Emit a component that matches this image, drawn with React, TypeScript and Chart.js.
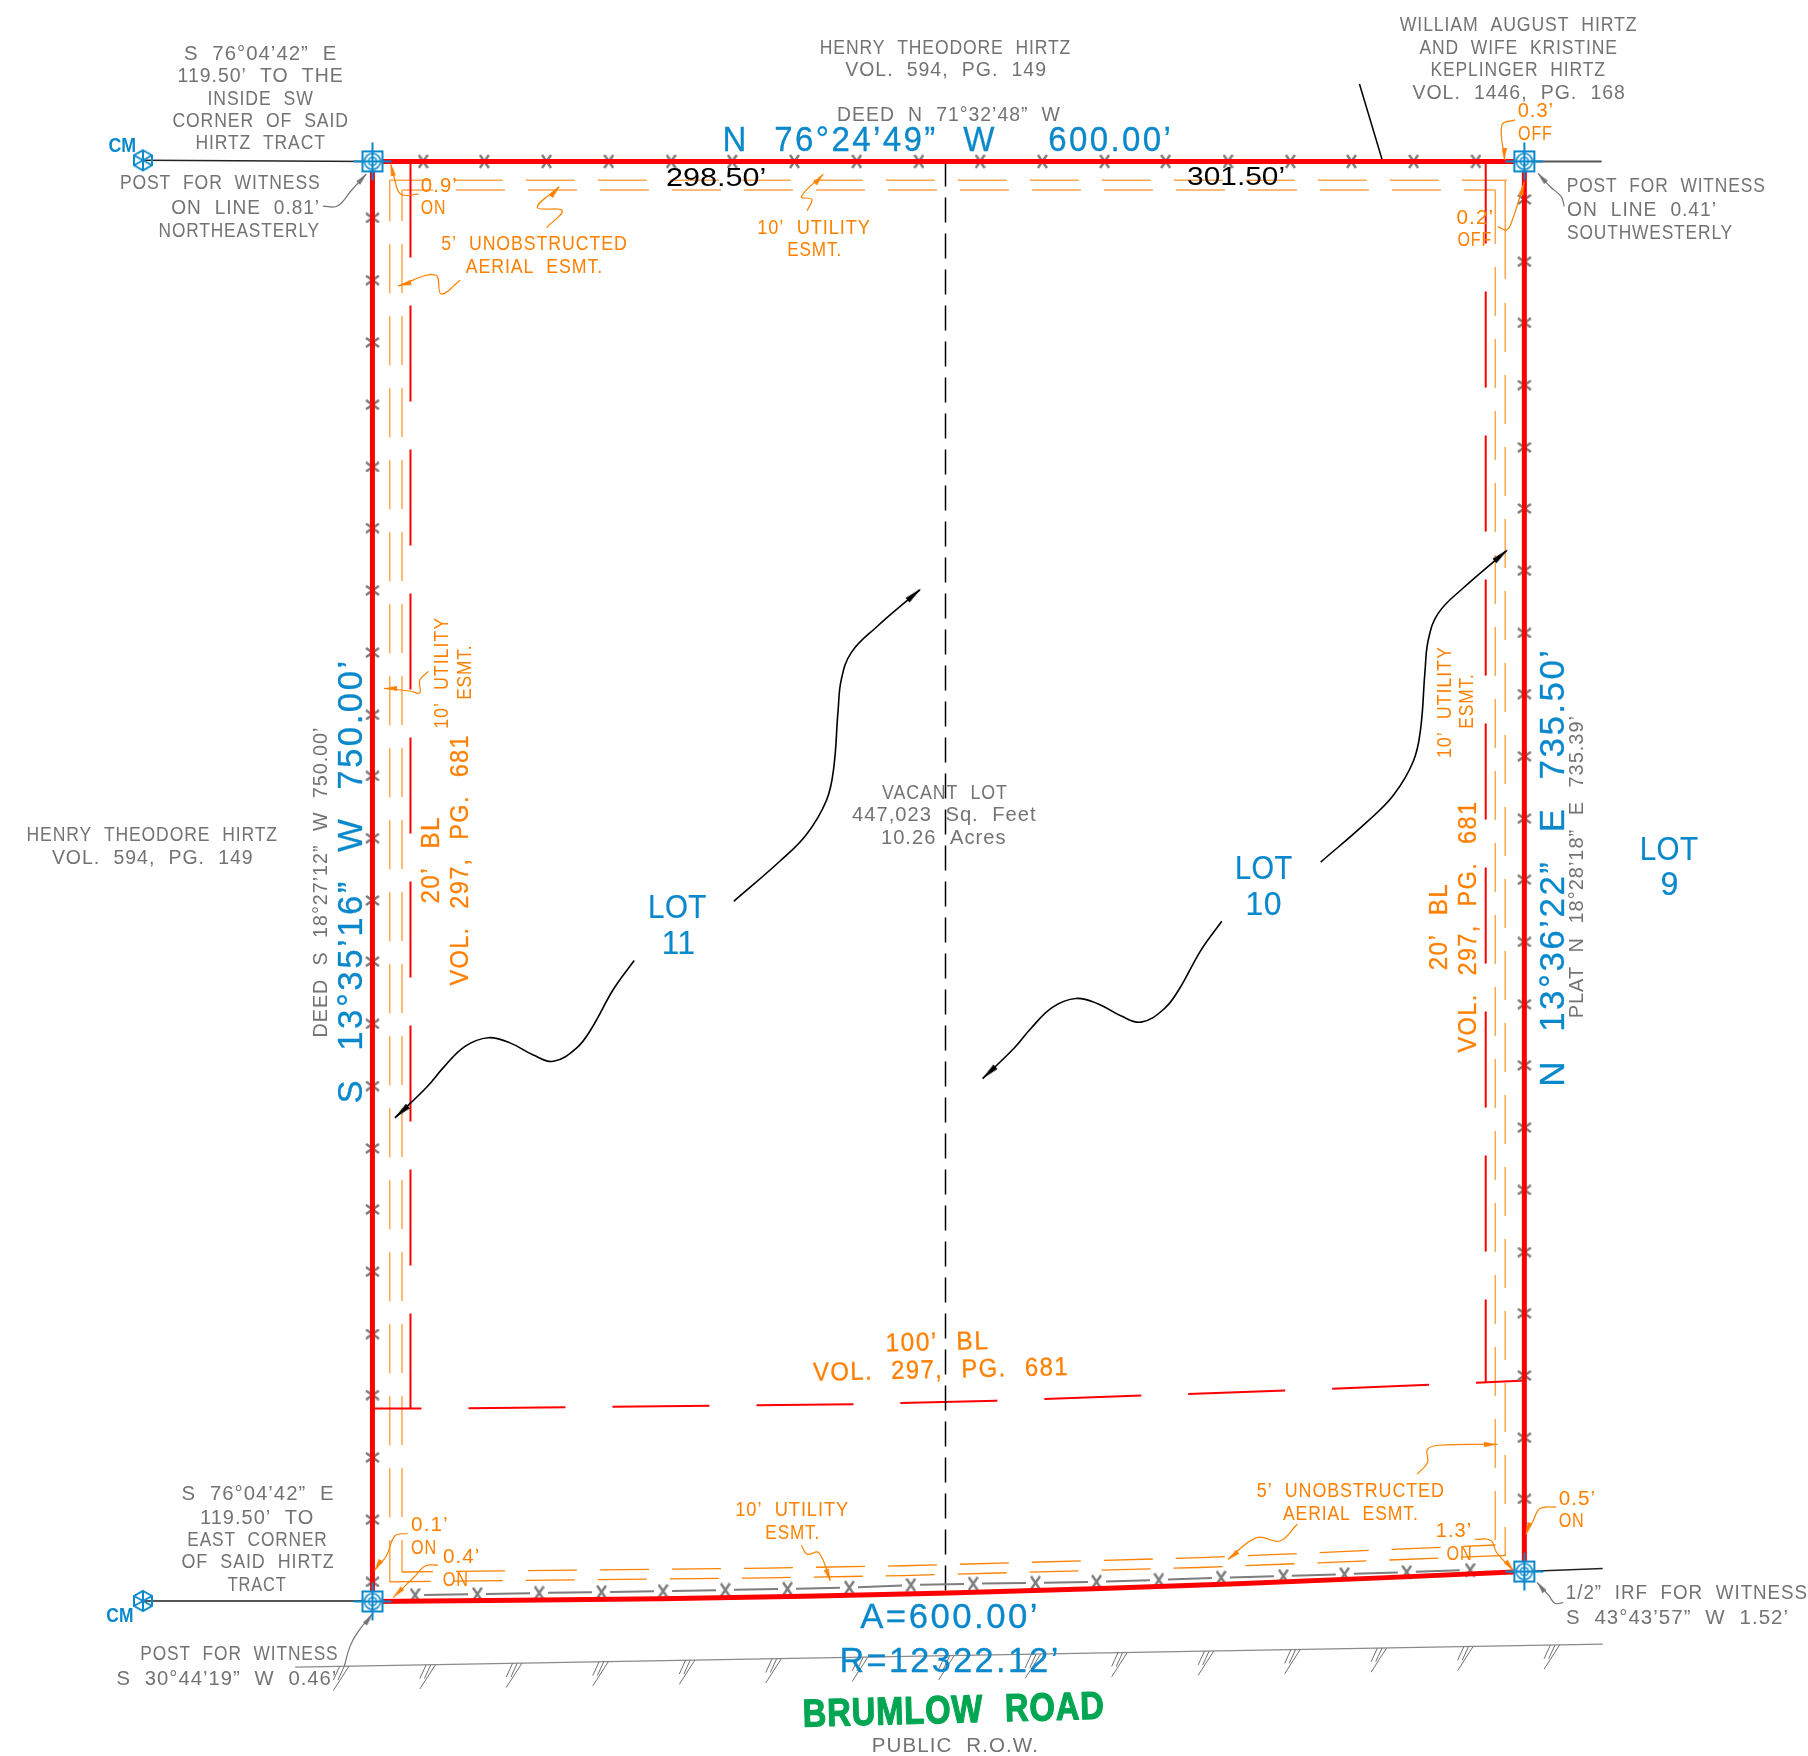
import React, { useEffect, useRef } from "react";
import { Chart, registerables } from "chart.js";

Chart.register(...registerables);

type P = [number, number];

// ---- plan extents (drawing units) ----
const planWidth = 1568;
const planHeight = 1523;

// ---- boundary ----
const boundarySides: P[] = [[323, 1389], [323, 140], [1322, 140], [1322, 1363]];
const boundaryArc: P[] = [[323, 1389], [573, 1386.6], [823, 1381.6], [1073, 1373.7], [1322, 1363]];

// ---- fence crossings ----
const topFenceX = [367, 420, 474, 528, 582, 635, 689, 743, 797, 850, 904, 958, 1011, 1065, 1119, 1172, 1226, 1280];
const topFenceY = 140;
const leftFenceY = [189, 243, 297, 351, 405, 458, 512, 566, 620, 673, 727, 781, 834, 888, 942, 996, 1049, 1103, 1157, 1210, 1264, 1318, 1372];
const leftFenceX = 323;
const rightFenceY = [173, 227, 280, 334, 388, 441, 495, 549, 602, 656, 710, 763, 817, 871, 924, 978, 1032, 1086, 1139, 1193, 1247, 1300];
const rightFenceX = 1322;
const bottomFence: P[] = [[360, 1383.4], [414, 1382.6], [467.6, 1381.6], [521.7, 1380.8], [575, 1380], [629, 1379], [683, 1378], [736.6, 1377], [790, 1374.7], [844, 1373.6], [898, 1372.8], [951, 1371.9], [1005, 1370.3], [1059, 1368.3], [1113, 1366.9], [1166, 1365.3], [1220, 1363.5], [1275, 1361.7]];

// ---- easements ----
const easeTopOuter: P[] = [[338, 156.4], [1307, 156.4]];
const easeTopInner: P[] = [[348.6, 164.8], [1297, 164.8]];
const easeLeftOuter: P[] = [[338, 156.4], [338, 1372]];
const easeLeftInner: P[] = [[348.6, 164.8], [348.6, 1363.4]];
const easeRightOuterHead: P[] = [[1305.4, 156.4], [1305.4, 242]];
const easeRightOuter: P[] = [[1305.4, 262.8], [1305.4, 1349]];
const easeRightInnerHead: P[] = [[1296.8, 164.8], [1296.8, 211.6]];
const easeRightInner: P[] = [[1296.8, 231.6], [1296.8, 1340]];
const easeBottomInner: P[] = [[348.6, 1363.4], [665, 1360], [784, 1358], [1041, 1351], [1297, 1340]];
const easeBottomOuter: P[] = [[338, 1372], [665, 1368.5], [784, 1366.5], [1041, 1359.5], [1306, 1349]];

// ---- building lines ----
const blLeft: P[] = [[356, 140], [356, 1221.7]];
const blRight: P[] = [[1288.5, 140], [1288.5, 1199]];
const blFront: P[] = [[323, 1221.7], [405, 1221.5], [740, 1218], [864, 1214.8], [1115, 1206], [1240, 1201], [1323.4, 1197.4]];

// ---- lot line, ties, road ----
const lotLine: P[] = [[820, 140], [820, 1382]];
const topTick: P[] = [[1179, 72.8], [1199, 139.6]];
const tieTopLeft: P[] = [[124, 139], [323, 140]];
const tieTopRight: P[] = [[1322, 140], [1389, 140]];
const tieBottomLeft: P[] = [[124, 1388.5], [323, 1388.5]];
const tieBottomRight: P[] = [[1322, 1363], [1390, 1360.4]];
const roadLine: P[] = [[256, 1446], [1390, 1426]];
const hatchTops: P[] = [[302.6, 1445.2], [377.6, 1443.9], [452.6, 1442.5], [527.6, 1441.2], [602.6, 1439.9], [677.6, 1438.6], [752.6, 1437.3], [827.6, 1435.9], [902.6, 1434.6], [977.6, 1433.3], [1052.6, 1432], [1127.6, 1430.7], [1202.6, 1429.3], [1277.6, 1428], [1352.6, 1426.7]];

// ---- leaders ----
const blackLeaders: P[][] = [
  [[550, 833], [532, 858], [513, 892], [500, 909], [480, 920.5], [462.5, 915], [442.3, 904.5], [423.5, 900], [403.3, 907.5], [384.5, 926], [370, 943], [342.6, 969.5]],
  [[636.4, 781.7], [676.3, 747], [699.4, 723.8], [716.7, 694.3], [723, 666.5], [726.8, 616.8], [729.7, 589], [738.4, 565.8], [760, 544], [797.7, 511.6]],
  [[1059.6, 799], [1041.6, 824], [1022.6, 858], [1009.6, 875], [989.6, 886.5], [972, 881], [952, 870.5], [933, 866], [913, 873.5], [894, 892], [879.6, 909], [852.2, 935.5]],
  [[1145.4, 747.7], [1185.3, 713], [1208.4, 689.8], [1225.7, 660.3], [1232, 632.5], [1235.8, 582.8], [1238.7, 555], [1247.4, 531.8], [1269, 510], [1306.7, 477.6]],
];
const blackArrows: [number, number, number][] = [[348, 964.5, -132], [793, 515.5, 49], [857.5, 930.5, -132], [1302, 481.5, 49]];

const orangeLeaders: P[][] = [
  [[362.7, 168.4], [347.6, 168.4], [341.7, 153.5], [339, 142.5]],
  [[474, 197.5], [487.5, 182.5], [466, 180], [485, 162]],
  [[700, 182.7], [704, 172.9], [695, 170.6], [714, 151.2]],
  [[399, 243], [382.6, 255], [377.6, 238.5], [345, 248]],
  [[371.5, 582.3], [364, 590], [364, 601], [355.6, 599.3], [333, 597]],
  [[1314, 104], [1302.6, 108.4], [1305, 138.8]],
  [[1299, 196.6], [1306.6, 199.5], [1311.6, 190.8], [1322, 157.6]],
  [[353.6, 1330], [342.6, 1332], [335, 1349.5], [325, 1361.6]],
  [[380, 1357.5], [369, 1358], [359, 1368], [341, 1385.6]],
  [[695, 1340], [700, 1348], [710, 1346.6], [720, 1371]],
  [[1125, 1322], [1110, 1336.5], [1090, 1333.6], [1065, 1352.4]],
  [[1229, 1278.6], [1238, 1268.5], [1238, 1257], [1248, 1253.5], [1299, 1252.6]],
  [[1279, 1335], [1293, 1336], [1298, 1346.6], [1313, 1362.5]],
  [[1349.6, 1307], [1335.6, 1308.4], [1329.6, 1319], [1323.4, 1330.4]],
];
const orangeArrows: [number, number, number][] = [[340, 147, -12], [481.5, 166, 40], [710.5, 155, 40], [351, 246.5, -105], [339, 597, -90], [1304.6, 134, 180], [1320.5, 163.5, 14], [327.5, 1358, -150], [345, 1381.5, -135], [718.5, 1366.5, 160], [1069, 1349.5, -130], [1293, 1252.8, 90], [1309.5, 1358.5, 140], [1325, 1326, -160]];

const grayLeaders: P[][] = [
  [[280, 178.7], [292.6, 178.7], [305, 164.8], [317.5, 151]],
  [[1356.6, 179], [1354, 170.6], [1344.5, 162], [1334, 150.3]],
  [[298.5, 1445.5], [303.6, 1427.7], [310, 1416], [322.6, 1400]],
  [[1355.6, 1390], [1348.4, 1390.5], [1343.4, 1384], [1333, 1372.6]],
];
const grayArrows: [number, number, number][] = [[314.5, 154.5, 42], [1337, 154, -42], [320, 1404, 38], [1336, 1376, -38]];

// ---- survey marks ----
const cornerPosts: P[] = [[323, 140], [1322, 140], [1322, 1363], [323, 1389]];
const controlMonuments: P[] = [[124, 139], [124, 1388.5]];

// ---- text ----
type Label = [string, number, number, number, string, number?];
const labels: Label[] = [
  ["S 76°04’42” E", 226, 46, 133, "gray"],
  ["119.50’ TO THE", 226, 65, 144, "gray"],
  ["INSIDE SW", 226, 85, 92, "gray"],
  ["CORNER OF SAID", 226, 104, 153, "gray"],
  ["HIRTZ TRACT", 226, 123, 113, "gray"],
  ["CM", 106, 126, 24, "cm"],
  ["POST FOR WITNESS", 191, 157.6, 174, "gray"],
  ["ON LINE 0.81’", 213, 179, 129, "gray"],
  ["NORTHEASTERLY", 207.5, 199, 140, "gray"],
  ["HENRY THEODORE HIRTZ", 820, 41, 218, "gray"],
  ["VOL. 594, PG. 149", 820.5, 60, 175, "gray"],
  ["DEED N 71°32’48” W", 823, 99, 194, "gray"],
  ["N 76°24’49” W  600.00’", 822, 120, 391, "bearing"],
  ["298.50’", 621, 153, 87, "black"],
  ["301.50’", 1072, 152, 85, "black"],
  ["0.9’", 381, 160.5, 32, "orange"],
  ["ON", 376, 179, 22, "orange"],
  ["5’ UNOBSTRUCTED", 463.5, 211, 161.6, "orange"],
  ["AERIAL ESMT.", 463.5, 230.7, 119, "orange"],
  ["10’ UTILITY", 706, 196.6, 98.5, "orange"],
  ["ESMT.", 706.5, 216, 47.5, "orange"],
  ["WILLIAM AUGUST HIRTZ", 1317, 21, 206, "gray"],
  ["AND WIFE KRISTINE", 1317, 40.5, 172, "gray"],
  ["KEPLINGER HIRTZ", 1316.6, 60, 152, "gray"],
  ["VOL. 1446, PG. 168", 1317.5, 79.5, 185, "gray"],
  ["0.3’", 1332, 95.4, 31.6, "orange"],
  ["OFF", 1331.6, 114.8, 30, "orange"],
  ["POST FOR WITNESS", 1445, 160, 172.6, "gray"],
  ["ON LINE 0.41’", 1424, 181.5, 130, "gray"],
  ["SOUTHWESTERLY", 1431, 201, 144, "gray"],
  ["0.2’", 1279.5, 188, 32.7, "orange"],
  ["OFF", 1279, 207, 30, "orange"],
  ["DEED S 18°27’12” W 750.00’", 277.8, 765, 269.5, "gray", -90],
  ["S 13°35’16” W 750.00’", 303, 764, 386, "bearing", -90],
  ["20’ BL", 373, 745.7, 76, "orangeBig", -90],
  ["VOL. 297, PG. 681", 398, 745.7, 218, "orangeBig", -90],
  ["10’ UTILITY", 382, 583.6, 97, "orange", -90],
  ["ESMT.", 402, 583, 48, "orange", -90],
  ["LOT", 587.5, 786, 51, "lot"],
  ["11", 588.5, 817, 29, "lot"],
  ["LOT", 1096, 752, 50, "lot"],
  ["10", 1096, 783.5, 31.6, "lot"],
  ["LOT", 1447.5, 736, 51, "lot"],
  ["9", 1448, 766, 16, "lot"],
  ["VACANT LOT", 819.5, 687, 109, "gray"],
  ["447,023 Sq. Feet", 819, 706, 160, "gray"],
  ["10.26 Acres", 818.5, 726, 109, "gray"],
  ["HENRY THEODORE HIRTZ", 132, 723, 218, "gray"],
  ["VOL. 594, PG. 149", 132.5, 743, 175, "gray"],
  ["10’ UTILITY", 1251.8, 609, 97, "orange", -90],
  ["ESMT.", 1271, 608, 48, "orange", -90],
  ["20’ BL", 1246.6, 803.6, 76, "orangeBig", -90],
  ["VOL. 297, PG. 681", 1271.8, 803.6, 218.4, "orangeBig", -90],
  ["N 13°36’22” E 735.50’", 1345.5, 752, 381, "bearing", -90],
  ["PLAT N 18°28’18” E 735.39’", 1367, 751.7, 263, "gray", -90],
  ["S 76°04’42” E", 223.8, 1295, 132.7, "gray"],
  ["119.50’ TO", 223, 1315.4, 99, "gray"],
  ["EAST CORNER", 223.3, 1334.8, 121.7, "gray"],
  ["OF SAID HIRTZ", 223.8, 1354, 132.7, "gray"],
  ["TRACT", 223, 1373.4, 51, "gray"],
  ["CM", 104, 1400.7, 23.5, "cm"],
  ["POST FOR WITNESS", 207.6, 1433.8, 172, "gray"],
  ["S 30°44’19” W 0.46’", 196.8, 1455.6, 191.6, "gray"],
  ["0.1’", 372.8, 1321.8, 32.5, "orange"],
  ["ON", 367.8, 1341.7, 22.5, "orange"],
  ["0.4’", 400.4, 1349.5, 32.5, "orange"],
  ["ON", 395.3, 1369, 22.6, "orange"],
  ["10’ UTILITY", 687, 1308.8, 98.7, "orange"],
  ["ESMT.", 687.5, 1328.4, 47.5, "orange"],
  ["A=600.00’", 824, 1401, 156, "bearing"],
  ["R=12322.12’", 824, 1439, 192, "bearing"],
  ["BRUMLOW ROAD", 827, 1482, 262, "road", -1.5],
  ["PUBLIC R.O.W.", 828.5, 1513, 145, "gray"],
  ["5’ UNOBSTRUCTED", 1171.5, 1292, 163, "orange"],
  ["AERIAL ESMT.", 1171.5, 1311.9, 117.7, "orange"],
  ["1.3’", 1261, 1327, 31.6, "orange"],
  ["ON", 1265.8, 1346.5, 22.5, "orange"],
  ["0.5’", 1368, 1299, 32.5, "orange"],
  ["ON", 1363, 1318.4, 22.5, "orange"],
  ["1/2” IRF FOR WITNESS", 1463, 1380.4, 210, "gray"],
  ["S 43°43’57” W 1.52’", 1454.8, 1402, 193.5, "gray"],
  ["100’ BL", 813, 1163, 90, "orangeBig", -1.3],
  ["VOL. 297, PG. 681", 816, 1187, 222, "orangeBig", -1.3],
];

const GRAY = "#737373";
const MARK_GRAY = "#7d7d7d";
const ORANGE = "#ff8000";
const PALE = "#ffa64d";
const RED = "#ff0000";
const BLUE = "#0a88cc";
const GREEN = "#00a651";
const NARROW = '"Liberation Sans Narrow", "Liberation Sans", Arial, sans-serif';
const WIDE = '"Liberation Sans", Arial, sans-serif';

const textStyles: Record<string, { size: number; color: string; weight: string; ws: number; ls: number; family: string; stroke: number }> = {
  gray: { size: 20, color: GRAY, weight: "400", ws: 7, ls: 1, family: NARROW, stroke: 0 },
  orange: { size: 20, color: ORANGE, weight: "400", ws: 7, ls: 1, family: NARROW, stroke: 0 },
  orangeBig: { size: 26, color: ORANGE, weight: "400", ws: 11, ls: 1.5, family: NARROW, stroke: 0.3 },
  black: { size: 26, color: "#000000", weight: "400", ws: 0, ls: 0, family: NARROW, stroke: 0 },
  bearing: { size: 35, color: BLUE, weight: "400", ws: 15, ls: 2.5, family: NARROW, stroke: 0.3 },
  lot: { size: 33, color: BLUE, weight: "400", ws: 0, ls: 0.5, family: WIDE, stroke: 0.2 },
  cm: { size: 20, color: BLUE, weight: "700", ws: 0, ls: 0, family: NARROW, stroke: 0 },
  road: { size: 39, color: GREEN, weight: "700", ws: 14, ls: 1, family: NARROW, stroke: 1.2 },
};

const pts = (a: P[]) => a.map(([x, y]) => ({ x, y }));

function sprite(w: number, h: number, paint: (c: CanvasRenderingContext2D) => void) {
  const cv = document.createElement("canvas");
  cv.width = w;
  cv.height = h;
  paint(cv.getContext("2d") as CanvasRenderingContext2D);
  return cv;
}
function crossSprite(w: number, h: number) {
  return sprite(w + 2, h + 2, (c) => {
    c.strokeStyle = MARK_GRAY;
    c.lineWidth = 2.5;
    c.beginPath();
    c.moveTo(1, 1);
    c.lineTo(w + 1, h + 1);
    c.moveTo(w + 1, 1);
    c.lineTo(1, h + 1);
    c.stroke();
  });
}
function arrowSprite(w: number, h: number, color: string) {
  return sprite(w, h, (c) => {
    c.fillStyle = color;
    c.beginPath();
    c.moveTo(w / 2, 0);
    c.lineTo(w, h);
    c.lineTo(0, h);
    c.closePath();
    c.fill();
  });
}
function postSprite() {
  return sprite(42, 42, (c) => {
    c.fillStyle = "#ffffff";
    c.fillRect(11, 11, 20, 20);
    c.strokeStyle = BLUE;
    c.lineWidth = 2;
    c.strokeRect(11, 11, 20, 20);
    c.lineWidth = 1.6;
    c.beginPath();
    c.arc(21, 21, 8, 0, Math.PI * 2);
    c.moveTo(25, 21);
    c.arc(21, 21, 4, 0, Math.PI * 2);
    c.stroke();
    c.lineWidth = 2;
    c.beginPath();
    c.moveTo(21, 2);
    c.lineTo(21, 40);
    c.moveTo(2, 21);
    c.lineTo(40, 21);
    c.stroke();
  });
}
function monumentSprite() {
  return sprite(24, 26, (c) => {
    c.strokeStyle = BLUE;
    c.lineWidth = 2;
    c.beginPath();
    c.moveTo(12, 3);
    c.lineTo(21, 8);
    c.lineTo(21, 18);
    c.lineTo(12, 23);
    c.lineTo(3, 18);
    c.lineTo(3, 8);
    c.closePath();
    c.moveTo(12, 3);
    c.lineTo(12, 23);
    c.moveTo(3, 8);
    c.lineTo(21, 18);
    c.moveTo(21, 8);
    c.lineTo(3, 18);
    c.stroke();
  });
}

function line(data: P[], color: string, width: number, dash: number[] = [], offset = 0, tension = 0) {
  return {
    type: "scatter",
    data: pts(data),
    showLine: true,
    borderColor: color,
    backgroundColor: color,
    borderWidth: width,
    borderDash: dash,
    borderDashOffset: offset,
    borderCapStyle: "butt",
    tension,
    pointRadius: 0,
    pointHoverRadius: 0,
  };
}
function marks(data: P[], style: HTMLCanvasElement, rotation: number[] | number = 0) {
  return {
    type: "scatter",
    data: pts(data),
    showLine: false,
    pointStyle: style,
    pointRadius: 2,
    pointHoverRadius: 2,
    pointRotation: rotation,
  };
}

const labelPlugin = {
  id: "planLabels",
  afterDatasetsDraw(chart: any) {
    const { ctx, scales } = chart;
    const sx = chart.width / planWidth;
    labels.forEach(([text, cx, cy, w, styleKey, rot]) => {
      const s = textStyles[styleKey];
      ctx.save();
      ctx.font = `${s.weight} ${s.size}px ${s.family}`;
      ctx.wordSpacing = `${s.ws}px`;
      ctx.letterSpacing = `${s.ls}px`;
      ctx.fillStyle = s.color;
      ctx.strokeStyle = s.color;
      ctx.lineJoin = "round";
      ctx.lineWidth = s.stroke;
      ctx.textAlign = "center";
      ctx.textBaseline = "alphabetic";
      const measured = ctx.measureText(text).width;
      ctx.translate(scales.x.getPixelForValue(cx), scales.y.getPixelForValue(cy));
      ctx.rotate(((rot || 0) * Math.PI) / 180);
      ctx.scale((w * sx) / measured, 1);
      ctx.fillText(text, 0, s.size * 0.358);
      if (s.stroke > 0) ctx.strokeText(text, 0, s.size * 0.358);
      ctx.restore();
    });
  },
};

export default function App() {
  const ref = useRef<HTMLCanvasElement>(null);
  useEffect(() => {
    if (!ref.current) return;
    const narrowX = crossSprite(9, 13);
    const wideX = crossSprite(13, 9);
    const arrowOrange = arrowSprite(5, 13, ORANGE);
    const arrowGray = arrowSprite(5, 13, GRAY);
    const arrowBlack = arrowSprite(6, 18, "#000000");
    const post = postSprite();
    const monument = monumentSprite();

    const hatchSegments: P[][] = [];
    hatchTops.forEach(([x, y]) => {
      hatchSegments.push([[x, y], [x - 13.5, y + 21]]);
      hatchSegments.push([[x - 4, y], [x - 9.5, y + 12]]);
      hatchSegments.push([[x - 8, y], [x - 13.5, y + 12]]);
    });

    const paintOrder: any[] = [
      // easements
      line(easeTopOuter, PALE, 1.5, [49, 23], 8),
      line(easeTopInner, PALE, 1.5, [49, 23], 18),
      line(easeLeftOuter, PALE, 1.5, [49, 23], 8),
      line(easeLeftInner, PALE, 1.5, [49, 23], 18),
      line(easeRightOuterHead, PALE, 1.5),
      line(easeRightOuter, PALE, 1.5, [49, 23]),
      line(easeRightInnerHead, PALE, 1.5),
      line(easeRightInner, PALE, 1.5, [49, 23]),
      line(easeBottomInner, ORANGE, 1.3, [49, 23], 18),
      line(easeBottomOuter, ORANGE, 1.3, [49, 23], 8),
      // building lines
      line(blLeft, RED, 2, [96, 48], 0),
      line(blRight, RED, 2, [96, 48], 14),
      line(blFront, RED, 2, [97, 47], 48),
      // lot line, ties, road
      line(lotLine, "#000000", 1.5, [25, 11]),
      line(topTick, "#000000", 1.5),
      line(tieTopLeft, "#222222", 1.5),
      line(tieTopRight, "#555555", 2),
      line(tieBottomLeft, "#555555", 2),
      line(tieBottomRight, "#222222", 1.5),
      line(roadLine, "#8a8a8a", 1.3),
      ...hatchSegments.map((h) => line(h, "#6f6f6f", 1)),
      // fence
      line(bottomFence, MARK_GRAY, 2, [44, 18], 53),
      marks(topFenceX.map((x) => [x, topFenceY] as P), narrowX),
      marks(leftFenceY.map((y) => [leftFenceX, y] as P), wideX),
      marks(rightFenceY.map((y) => [rightFenceX, y] as P), wideX),
      marks(bottomFence, narrowX),
      // boundary
      line(boundarySides, RED, 5),
      line(boundaryArc, RED, 5, [], 0, 0.3),
      // leaders
      ...blackLeaders.map((l) => line(l, "#000000", 1.6, [], 0, 0.4)),
      ...orangeLeaders.map((l) => line(l, ORANGE, 1.2, [], 0, 0.4)),
      ...grayLeaders.map((l) => line(l, GRAY, 1.2, [], 0, 0.4)),
      marks(blackArrows.map(([x, y]) => [x, y] as P), arrowBlack, blackArrows.map((a) => a[2])),
      marks(orangeArrows.map(([x, y]) => [x, y] as P), arrowOrange, orangeArrows.map((a) => a[2])),
      marks(grayArrows.map(([x, y]) => [x, y] as P), arrowGray, grayArrows.map((a) => a[2])),
      // survey marks
      marks(cornerPosts, post),
      marks(controlMonuments, monument),
    ];

    const chart = new Chart(ref.current, {
      type: "scatter",
      data: { datasets: paintOrder.map((d, i) => ({ ...d, order: paintOrder.length - i })) },
      options: {
        animation: false,
        responsive: false,
        devicePixelRatio: 1,
        layout: { padding: 0, autoPadding: false },
        events: [],
        scales: {
          x: { type: "linear", display: false, min: 0, max: planWidth },
          y: { type: "linear", display: false, min: 0, max: planHeight, reverse: true },
        },
        plugins: { legend: { display: false }, tooltip: { enabled: false }, title: { display: false } },
      },
      plugins: [labelPlugin],
    } as any);
    return () => chart.destroy();
  }, []);

  return (
    <div style={{ position: "absolute", left: 0, top: 0, width: 1808, height: 1756, background: "#fff" }}>
      <canvas ref={ref} width={1808} height={1756} style={{ display: "block", width: 1808, height: 1756 }} />
    </div>
  );
}
